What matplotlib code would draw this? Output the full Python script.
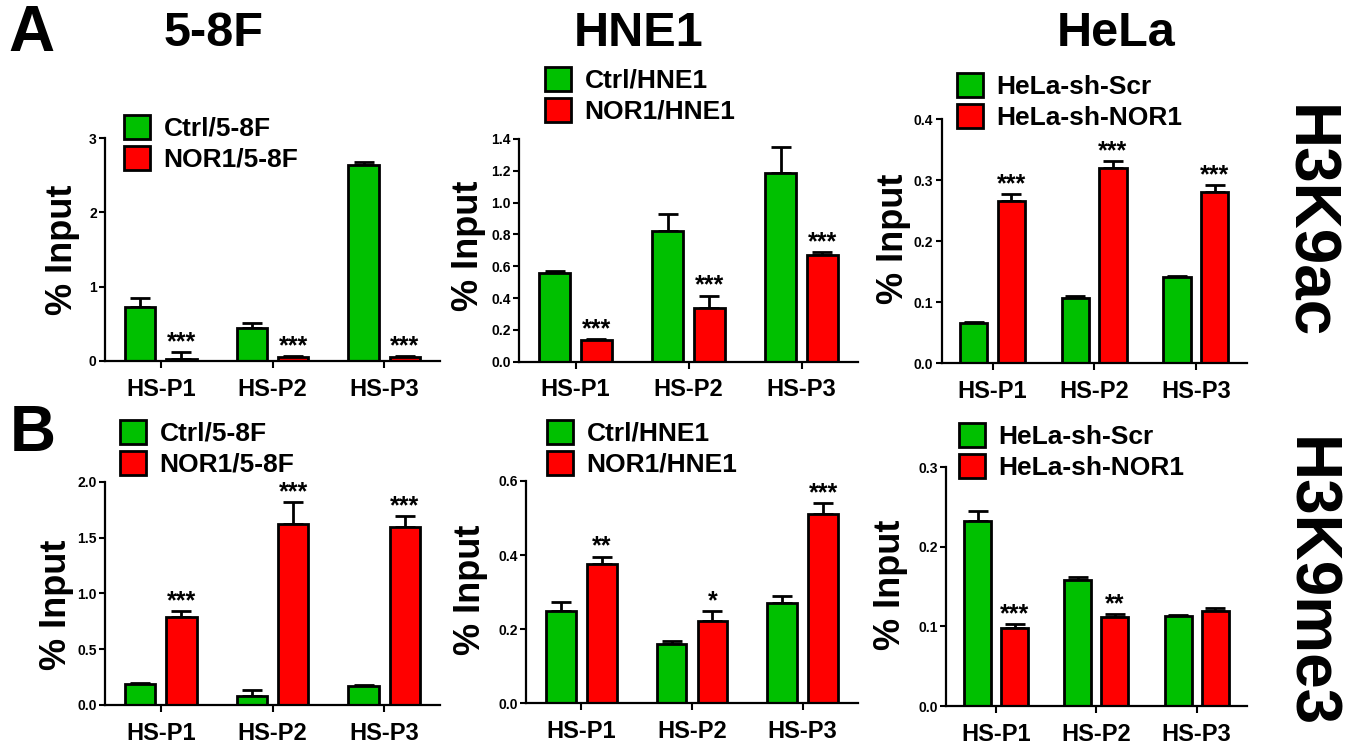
import matplotlib
matplotlib.use('Agg')
import matplotlib.pyplot as plt
import numpy as np

plt.rcParams['font.family'] = ['Liberation Sans', 'DejaVu Sans']
plt.rcParams['font.weight'] = 'bold'

# data
groups = ['HS-P1', 'HS-P2', 'HS-P3']

a_58f_ctrl = [0.73, 0.45, 2.64]
a_58f_ctrl_err = [0.12, 0.06, 0.04]
a_58f_nor1 = [0.03, 0.06, 0.05]
a_58f_nor1_err = [0.09, 0.01, 0.02]

a_hne1_ctrl = [0.56, 0.82, 1.185]
a_hne1_ctrl_err = [0.01, 0.11, 0.165]
a_hne1_nor1 = [0.135, 0.336, 0.67]
a_hne1_nor1_err = [0.01, 0.08, 0.02]

a_hela_scr = [0.066, 0.1075, 0.142]
a_hela_scr_err = [0.001, 0.003, 0.001]
a_hela_nor1 = [0.266, 0.32, 0.281]
a_hela_nor1_err = [0.011, 0.012, 0.011]

b_58f_ctrl = [0.19, 0.08, 0.17]
b_58f_ctrl_err = [0.005, 0.05, 0.01]
b_58f_nor1 = [0.785, 1.62, 1.59]
b_58f_nor1_err = [0.055, 0.2, 0.1]

b_hne1_ctrl = [0.25, 0.159, 0.272]
b_hne1_ctrl_err = [0.023, 0.01, 0.018]
b_hne1_nor1 = [0.375, 0.223, 0.511]
b_hne1_nor1_err = [0.021, 0.027, 0.029]

b_hela_scr = [0.2325, 0.158, 0.1135]
b_hela_scr_err = [0.0125, 0.004, 0.001]
b_hela_nor1 = [0.0985, 0.1115, 0.12]
b_hela_nor1_err = [0.005, 0.0045, 0.0035]

stars_a_58f = ['***', '***', '***']
stars_a_hne1 = ['***', '***', '***']
stars_a_hela = ['***', '***', '***']
stars_b_58f = ['***', '***', '***']
stars_b_hne1 = ['**', '*', '***']
stars_b_hela = ['***', '**', '']

GREEN = '#00c000'
RED = '#ff0000'
W, H = 1349, 744

fig = plt.figure(figsize=(W / 100, H / 100), dpi=100)


def px_axes(left, right, top, bottom):
    return fig.add_axes([left / W, (H - bottom) / H, (right - left) / W, (bottom - top) / H])


def panel(rect, ctrl, ctrl_err, nor, nor_err, stars, labels, ymax, ystep, fmt,
          ylab_xy, leg_xy):
    ax = px_axes(*rect)
    x = np.arange(len(groups))
    width = 0.27
    off = 0.185
    b1 = ax.bar(x - off, ctrl, width, color=GREEN, edgecolor='black', linewidth=2,
                label=labels[0], zorder=2)
    b2 = ax.bar(x + off, nor, width, color=RED, edgecolor='black', linewidth=2,
                label=labels[1], zorder=2)
    ax.errorbar(x - off, ctrl, yerr=[np.zeros(3), ctrl_err], fmt='none', ecolor='black',
                elinewidth=2, capsize=7, capthick=2, zorder=1)
    ax.errorbar(x + off, nor, yerr=[np.zeros(3), nor_err], fmt='none', ecolor='black',
                elinewidth=2, capsize=7, capthick=2, zorder=1)
    for xi, v, e, s in zip(x + off, nor, nor_err, stars):
        if s:
            ax.annotate(s, (xi, v + e), xytext=(0, 2), textcoords='offset points',
                        ha='center', va='baseline', fontsize=18, fontweight='bold')
    ax.set_xlim(-0.5, 2.5)
    ax.set_ylim(0, ymax)
    ticks = np.arange(0, ymax + ystep / 2, ystep)
    ax.set_yticks(ticks)
    ax.set_yticklabels([fmt.format(t) for t in ticks], fontsize=10, fontweight='bold')
    ax.set_xticks(x)
    ax.set_xticklabels(groups, fontsize=17, fontweight='bold')
    ax.spines['top'].set_visible(False)
    ax.spines['right'].set_visible(False)
    ax.spines['left'].set_linewidth(1.6)
    ax.spines['bottom'].set_linewidth(1.6)
    ax.tick_params(axis='y', length=4, width=1.5, pad=2)
    ax.tick_params(axis='x', length=5, width=1.5, pad=7)
    ax.set_ylabel('% Input', fontsize=26, fontweight='bold')
    ax.yaxis.set_label_coords(*ylab_xy)
    fig.legend(handles=[b1, b2], labels=labels, loc='upper left',
               bbox_to_anchor=(leg_xy[0] / W, (H - leg_xy[1]) / H), frameon=False,
               handlelength=1.0, handleheight=1.0, handletextpad=0.5,
               labelspacing=0.2, borderpad=0, borderaxespad=0,
               prop={'weight': 'bold', 'size': 19})
    return ax


panel((105, 440, 138, 361), a_58f_ctrl, a_58f_ctrl_err, a_58f_nor1, a_58f_nor1_err,
      stars_a_58f, ['Ctrl/5-8F', 'NOR1/5-8F'], 3, 1, '{:.0f}', (-0.075, 0.5), (124, 115))
panel((519, 858, 139, 361.7), a_hne1_ctrl, a_hne1_ctrl_err, a_hne1_nor1, a_hne1_nor1_err,
      stars_a_hne1, ['Ctrl/HNE1', 'NOR1/HNE1'], 1.4, 0.2, '{:.1f}', (-0.098, 0.52), (545, 67))
panel((941.7, 1246.7, 119.3, 363.3), a_hela_scr, a_hela_scr_err, a_hela_nor1, a_hela_nor1_err,
      stars_a_hela, ['HeLa-sh-Scr', 'HeLa-sh-NOR1'], 0.4, 0.1, '{:.1f}', (-0.102, 0.51), (957, 73))
panel((105, 440, 481.7, 705), b_58f_ctrl, b_58f_ctrl_err, b_58f_nor1, b_58f_nor1_err,
      stars_b_58f, ['Ctrl/5-8F', 'NOR1/5-8F'], 2.0, 0.5, '{:.1f}', (-0.092, 0.45), (120, 420))
panel((526, 858, 481, 703.3), b_hne1_ctrl, b_hne1_ctrl_err, b_hne1_nor1, b_hne1_nor1_err,
      stars_b_hne1, ['Ctrl/HNE1', 'NOR1/HNE1'], 0.6, 0.2, '{:.1f}', (-0.115, 0.51), (547, 420))
panel((946, 1246.7, 467.3, 706), b_hela_scr, b_hela_scr_err, b_hela_nor1, b_hela_nor1_err,
      stars_b_hela, ['HeLa-sh-Scr', 'HeLa-sh-NOR1'], 0.3, 0.1, '{:.1f}', (-0.125, 0.51), (959, 423))

# column titles, panel letters, row labels
fig.text(214 / W, 1 - 33 / H, '5-8F', ha='center', va='center', fontsize=35, fontweight='bold')
fig.text(639 / W, 1 - 33 / H, 'HNE1', ha='center', va='center', fontsize=35, fontweight='bold')
fig.text(1116 / W, 1 - 33 / H, 'HeLa', ha='center', va='center', fontsize=35, fontweight='bold')
fig.text(8 / W, 1 - 34 / H, 'A', ha='left', va='center', fontsize=46, fontweight='bold')
fig.text(10 / W, 1 - 434 / H, 'B', ha='left', va='center', fontsize=46, fontweight='bold')
fig.text(1307 / W, 1 - 222 / H, 'H3K9ac', ha='center', va='center', rotation=-90,
         fontsize=46, fontweight='bold')
fig.text(1308 / W, 1 - 583 / H, 'H3K9me3', ha='center', va='center', rotation=-90,
         fontsize=46, fontweight='bold')

fig.savefig('out.png', dpi=100)
